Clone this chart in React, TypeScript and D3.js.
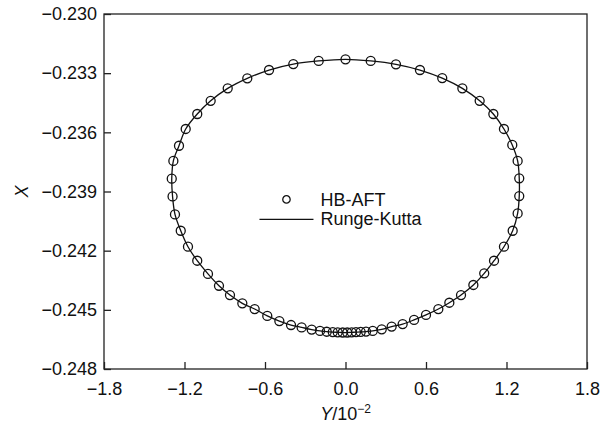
import { useEffect, useRef } from 'react'
import * as d3 from 'd3'

// HB-AFT points (Y in units of 1e-2, X)
const hbY = [
  0.0, 0.188, 0.376, 0.555, 0.721, 0.871, 1.0, 1.102, 1.181, 1.243, 1.283, 1.295, 1.295,
  1.283, 1.246, 1.181, 1.107, 1.034, 0.953, 0.861, 0.774, 0.692, 0.6, 0.511, 0.426, 0.344,
  0.27, 0.203, 0.153, 0.113, 0.078, 0.046, 0.013, -0.021, -0.058, -0.095, -0.14, -0.19,
  -0.252, -0.327, -0.406, -0.493, -0.583, -0.677, -0.769, -0.861, -0.943, -1.025, -1.105,
  -1.174, -1.228, -1.271, -1.289, -1.295, -1.283, -1.241, -1.191, -1.105, -1.005, -0.878,
  -0.732, -0.57, -0.389, -0.2,
]
const hbX = [
  -0.2323, -0.23238, -0.23255, -0.23284, -0.23325, -0.23377, -0.2344, -0.23507, -0.23583,
  -0.23664, -0.23745, -0.23833, -0.23923, -0.24011, -0.24099, -0.2418, -0.24251, -0.24315,
  -0.24374, -0.24425, -0.24464, -0.24496, -0.24526, -0.24551, -0.24572, -0.24585, -0.24599,
  -0.24607, -0.2461, -0.24612, -0.24613, -0.24614, -0.24615, -0.24615, -0.24614, -0.24613,
  -0.24611, -0.24607, -0.246, -0.24589, -0.24577, -0.24557, -0.24531, -0.24496, -0.24467,
  -0.24425, -0.24378, -0.24318, -0.24251, -0.2418, -0.24099, -0.24016, -0.23925, -0.23835,
  -0.23745, -0.23668, -0.23583, -0.23507, -0.2344, -0.23377, -0.23326, -0.23284, -0.23254,
  -0.23238,
]

const xTicks = [-1.8, -1.2, -0.6, 0, 0.6, 1.2, 1.8]
const yTicks = [-0.248, -0.245, -0.242, -0.239, -0.236, -0.233, -0.23]
const legendLabels = ['HB-AFT', 'Runge-Kutta']

const W = 613
const H = 423
const FONT = 'Liberation Sans, Arial, sans-serif'

const App = () => {
  const ref = useRef<SVGSVGElement>(null)

  useEffect(() => {
    const svg = d3.select(ref.current)
    svg.selectAll('*').remove()

    const margin = { top: 14, right: 26, bottom: 54, left: 104 }
    const width = W - margin.left - margin.right
    const height = H - margin.top - margin.bottom

    const g = svg.append('g').attr('transform', `translate(${margin.left},${margin.top})`)

    const x = d3.scaleLinear().domain([-1.8, 1.8]).range([0, width])
    const y = d3.scaleLinear().domain([-0.248, -0.23]).range([height, 0])

    const dash = (s: string) => s.replace('-', '\u2013')

    // frame
    g.append('rect')
      .attr('width', width)
      .attr('height', height)
      .attr('fill', 'none')
      .attr('stroke', '#222')
      .attr('stroke-width', 1.3)

    // axes, ticks pointing inward
    const xAxis = d3
      .axisBottom(x)
      .tickValues(xTicks)
      .tickSizeInner(-7)
      .tickSizeOuter(0)
      .tickPadding(13)
      .tickFormat((d) => dash(d3.format('.1f')(d as number)))
    const yAxis = d3
      .axisLeft(y)
      .tickValues(yTicks)
      .tickSizeInner(-7)
      .tickSizeOuter(0)
      .tickPadding(7)
      .tickFormat((d) => dash(d3.format('.3f')(d as number)))

    const gx = g.append('g').attr('transform', `translate(0,${height})`).call(xAxis)
    const gy = g.append('g').call(yAxis)
    for (const ax of [gx, gy]) {
      ax.select('.domain').remove()
      ax.selectAll('line').attr('stroke', '#222').attr('stroke-width', 1.3)
      ax.selectAll('text').attr('font-family', FONT).attr('font-size', 18).attr('fill', '#111')
    }

    // Runge-Kutta curve
    const pts: [number, number][] = hbY.map((v, i) => [x(v), y(hbX[i])])
    g.append('path')
      .attr('d', d3.line().curve(d3.curveCatmullRomClosed)(pts))
      .attr('fill', 'none')
      .attr('stroke', '#111')
      .attr('stroke-width', 1.3)

    // HB-AFT circles
    g.selectAll('.pt')
      .data(pts)
      .enter()
      .append('circle')
      .attr('class', 'pt')
      .attr('cx', (d) => d[0])
      .attr('cy', (d) => d[1])
      .attr('r', 4.5)
      .attr('fill', 'none')
      .attr('stroke', '#111')
      .attr('stroke-width', 1.3)

    // legend
    const lg = g.append('g').attr('transform', `translate(${x(-0.44)},${y(-0.2394)})`)
    lg.append('circle')
      .attr('cx', 0)
      .attr('cy', 0)
      .attr('r', 3.7)
      .attr('fill', 'none')
      .attr('stroke', '#111')
      .attr('stroke-width', 1.3)
    lg.append('line')
      .attr('x1', -27)
      .attr('x2', 27)
      .attr('y1', 20)
      .attr('y2', 20)
      .attr('stroke', '#111')
      .attr('stroke-width', 1.3)
    legendLabels.forEach((t, i) => {
      lg.append('text')
        .attr('x', 34)
        .attr('y', i * 19 + 6.5)
        .attr('font-family', FONT)
        .attr('font-size', 18)
        .attr('fill', '#111')
        .text(t)
    })

    // axis labels
    const xl = g
      .append('text')
      .attr('x', width / 2)
      .attr('y', height + 51)
      .attr('text-anchor', 'middle')
      .attr('font-family', FONT)
      .attr('font-size', 18)
      .attr('fill', '#111')
    xl.append('tspan').attr('font-style', 'italic').text('Y')
    xl.append('tspan').text('/10')
    xl.append('tspan').attr('font-size', 12).attr('dy', -7).text('\u22122')

    g.append('text')
      .attr('transform', `translate(${-76},${height / 2}) rotate(-90)`)
      .attr('text-anchor', 'middle')
      .attr('font-family', FONT)
      .attr('font-size', 18)
      .attr('font-style', 'italic')
      .attr('fill', '#111')
      .text('X')
  }, [])

  return (
    <svg
      ref={ref}
      width={W}
      height={H}
      style={{ position: 'absolute', left: 0, top: 0, background: '#fff' }}
    />
  )
}

export default App
